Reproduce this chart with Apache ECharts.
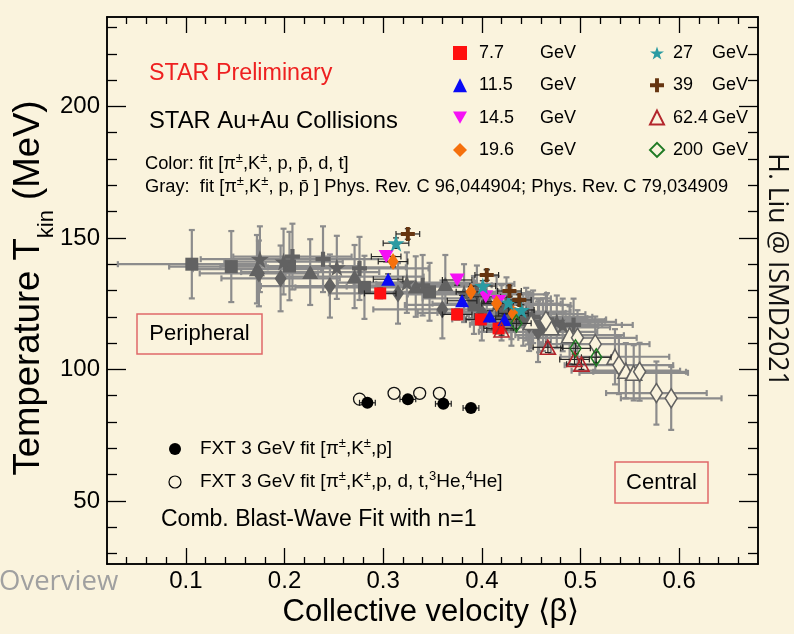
<!DOCTYPE html>
<html><head><meta charset="utf-8">
<script src="https://cdn.jsdelivr.net/npm/echarts@6/dist/echarts.min.js"></script>
<style>html,body{margin:0;padding:0;background:#faf3dd}#c{width:794px;height:634px}</style>
</head><body><div id="c"></div><script>
// ---- axis ticks ----
const xTickLabels = [0.1, 0.2, 0.3, 0.4, 0.5, 0.6];
const xMinorTicks = [0.04,0.06,0.08,0.12,0.14,0.16,0.18,0.22,0.24,0.26,0.28,0.32,0.34,0.36,0.38,0.42,0.44,0.46,0.48,0.52,0.54,0.56,0.58,0.62,0.64,0.66];
const yTickLabels = [50, 100, 150, 200];
const yMinorTicks = [30,40,60,70,80,90,110,120,130,140,160,170,180,190,210,220,230];

// ---- colour fits [pi, K, p, pbar, d, t] : [beta, Tkin, dBeta, dT] ----
const fit7p7  = [[0.297,128.9,0.016,2],[0.375,120.9,0.015,2],[0.399,119.0,0.015,2],[0.417,115.6,0.015,2]];
const fit11p5 = [[0.305,134.3,0.015,2],[0.380,126.1,0.015,2],[0.408,120.3,0.015,2],[0.423,119.0,0.015,2]];
const fit14p5 = [[0.303,142.9,0.015,2],[0.375,134.0,0.015,2],[0.404,127.6,0.015,2],[0.417,125.8,0.015,2]];
const fit19p6 = [[0.310,141.0,0.015,2],[0.389,129.5,0.015,2],[0.415,125.1,0.015,2],[0.432,121.3,0.015,2]];
const fit27   = [[0.313,148.0,0.013,2],[0.401,131.7,0.013,2],[0.427,125.4,0.013,2],[0.440,122.6,0.013,2]];
const fit39   = [[0.325,151.5,0.012,2],[0.405,135.9,0.012,2],[0.428,129.8,0.012,2],[0.438,126.4,0.012,2]];
const fit62p4 = [[0.420,115.0,0.015,2],[0.467,108.4,0.015,2],[0.494,103.8,0.015,2],[0.501,102.0,0.015,2]];
const fit200  = [[0.435,117.5,0.015,2],[0.495,108.0,0.015,2],[0.516,104.6,0.015,2]];

// ---- published fits [pi, K, p, pbar] (gray) ----
const pub7p7  = [[0.106,140.0,0.075,13],[0.146,139.1,0.063,13.5],[0.205,139.3,0.07,13],[0.281,131.2,0.07,12],[0.347,129.5,0.07,11],[0.392,124.5,0.07,11],[0.420,121.5,0.065,10.5],[0.442,119.0,0.06,10],[0.458,116.5,0.06,10]];
const pub11p5 = [[0.172,138.1,0.065,13],[0.226,137.0,0.07,12.5],[0.271,135.3,0.07,12],[0.333,131.5,0.07,11.5],[0.363,132.5,0.07,11],[0.405,127.0,0.065,11],[0.430,122.0,0.06,10.5],[0.447,119.5,0.06,10],[0.462,117.0,0.06,10]];
const pub19p6 = [[0.174,136.5,0.06,12.5],[0.196,134.6,0.06,12.5],[0.246,131.7,0.07,12],[0.315,128.9,0.07,11.5],[0.360,122.8,0.07,11],[0.400,121.5,0.065,10.5],[0.430,119.0,0.06,10],[0.448,117.0,0.06,10],[0.457,114.3,0.06,11.5]];
const pub27   = [[0.175,141.9,0.06,12.5],[0.199,141.0,0.06,12.5],[0.253,138.8,0.07,12],[0.324,133.0,0.07,11.5],[0.382,129.0,0.07,11],[0.415,125.0,0.065,10.5],[0.445,121.0,0.06,10],[0.476,118.1,0.06,10],[0.482,116.9,0.06,10]];
const pub39   = [[0.208,142.9,0.06,12.5],[0.239,141.9,0.065,12.5],[0.276,138.4,0.07,12],[0.340,132.0,0.07,11.5],[0.395,128.5,0.07,11],[0.425,124.5,0.065,10.5],[0.452,120.0,0.06,10],[0.466,119.0,0.06,10],[0.493,116.9,0.06,10]];
const pub62p4 = [[0.450,118.0,0.06,10],[0.470,116.0,0.06,10],[0.489,113.0,0.055,11],[0.535,104.8,0.055,10.5],[0.546,99.5,0.055,10.5],[0.554,98.7,0.055,10.5]];
const pub200  = [[0.465,118.5,0.06,10],[0.497,112.0,0.06,10.5],[0.515,109.6,0.055,10.5],[0.539,101.6,0.055,11],[0.560,99.1,0.047,11],[0.577,91.0,0.051,12],[0.592,89.0,0.051,12]];

// ---- FXT 3 GeV : [beta, Tkin, dBeta] ----
const fxtPiKp  = [[0.284,87.3,0.008],[0.325,88.6,0.008],[0.361,86.9,0.008],[0.389,85.3,0.008]];
const fxtLight = [[0.276,88.7],[0.311,90.9],[0.337,90.9],[0.357,90.9]];

const FONT = '"Liberation Sans", Arial, Helvetica, sans-serif';
const BG = '#faf3dd';
const STAR = 'path://M50,0L61.8,35.4L99,35.4L69,57.3L80.3,92.7L50,70.8L19.7,92.7L31,57.3L1,35.4L38.2,35.4Z';
const CROSS = 'path://M36,0H64V36H100V64H64V100H36V64H0V36H36Z';
const DOWN = 'path://M0,0L100,0L50,87Z';

const colourSets = [
  {name: '7.7 GeV',  data: fit7p7,  symbol: 'rect',     size: 12,      color: '#ff1010'},
  {name: '11.5 GeV', data: fit11p5, symbol: 'triangle', size: [14,13], color: '#0a0af5'},
  {name: '14.5 GeV', data: fit14p5, symbol: DOWN,       size: [15,13], color: '#f510f5'},
  {name: '19.6 GeV', data: fit19p6, symbol: 'diamond',  size: [11,17], color: '#f5700c'},
  {name: '27 GeV',   data: fit27,   symbol: STAR,       size: 17,      color: '#2a9ba2'},
  {name: '39 GeV',   data: fit39,   symbol: CROSS,      size: 14,      color: '#663510'},
  {name: '62.4 GeV', data: fit62p4, symbol: 'triangle', size: [15,14], color: '#b3262c', open: true},
  {name: '200 GeV',  data: fit200,  symbol: 'diamond',  size: [11,17], color: '#1f7a24', open: true}
];
const graySets = [
  {name: 'pub 7.7',  data: pub7p7,  symbol: 'rect',     size: 13},
  {name: 'pub 11.5', data: pub11p5, symbol: 'triangle', size: [16,14]},
  {name: 'pub 19.6', data: pub19p6, symbol: 'diamond',  size: [12,18]},
  {name: 'pub 27',   data: pub27,   symbol: STAR,       size: 18},
  {name: 'pub 39',   data: pub39,   symbol: CROSS,      size: 15},
  {name: 'pub 62.4', data: pub62p4, symbol: 'triangle', size: [16,15], open: true},
  {name: 'pub 200',  data: pub200,  symbol: 'diamond',  size: [12,19], open: true}
];

function seg(x1, y1, x2, y2, stroke, lw) {
  return {type: 'line', shape: {x1, y1, x2, y2}, style: {stroke, lineWidth: lw}};
}
function errorBars(name, data, stroke, lw, cap, z) {
  return {
    type: 'custom', name, data, z, silent: true, clip: true,
    encode: {x: 0, y: 1},
    renderItem(params, api) {
      const b = api.value(0), t = api.value(1), db = api.value(2), dt = api.value(3);
      const ch = [];
      if (db > 0) {
        const l = api.coord([b - db, t]), r = api.coord([b + db, t]);
        ch.push(seg(l[0], l[1], r[0], r[1], stroke, lw),
                seg(l[0], l[1] - cap, l[0], l[1] + cap, stroke, lw),
                seg(r[0], r[1] - cap, r[0], r[1] + cap, stroke, lw));
      }
      if (dt > 0) {
        const u = api.coord([b, t + dt]), d = api.coord([b, t - dt]);
        ch.push(seg(u[0], u[1], d[0], d[1], stroke, lw),
                seg(u[0] - cap, u[1], u[0] + cap, u[1], stroke, lw),
                seg(d[0] - cap, d[1], d[0] + cap, d[1], stroke, lw));
      }
      return {type: 'group', children: ch};
    }
  };
}
function markers(set, fill, z) {
  return {
    type: 'scatter', name: set.name, z, symbol: set.symbol, symbolSize: set.size,
    data: set.data.map(p => [p[0], p[1]]),
    itemStyle: set.open ? {color: fill, borderColor: set.color, borderWidth: 1.6, opacity: 1}
                        : {color: set.color, borderWidth: 0, opacity: 1}
  };
}

const series = [];
graySets.forEach(s => series.push(errorBars(s.name + ' err', s.data, '#8c8c8c', 2.2, 3, 2)));
graySets.forEach(s => series.push(markers(Object.assign({color: '#626262'}, s), BG, 3)));
colourSets.forEach(s => series.push(errorBars(s.name + ' err', s.data, '#262626', 1.2, 3, 4)));
colourSets.forEach(s => series.push(markers(s, 'rgba(0,0,0,0)', 5)));
series.push(errorBars('FXT err', fxtPiKp.map(p => [p[0], p[1], p[2], 0]), '#222', 1.2, 3, 6));
series.push({type: 'scatter', name: 'FXT light', z: 6, symbol: 'circle', symbolSize: 12,
  data: fxtLight, itemStyle: {color: 'rgba(0,0,0,0)', borderColor: '#111', borderWidth: 1.3, opacity: 1}});
series.push({type: 'scatter', name: 'FXT', z: 7, symbol: 'circle', symbolSize: 12,
  data: fxtPiKp.map(p => [p[0], p[1]]), itemStyle: {color: '#000', opacity: 1}});

// text runs with super/subscripts
const ctx = document.createElement('canvas').getContext('2d');
function width(t, s) { ctx.font = s + 'px "Liberation Sans"'; return ctx.measureText(t).width; }
function run(parts, o) {
  let w = 0; const kids = [];
  parts.forEach(([t, s, dy]) => {
    kids.push({type: 'text', x: w, y: dy || 0, style: {text: t, font: s + 'px ' + (o.family || FONT),
      fill: o.fill || '#000', align: 'left', textAlign: 'left', verticalAlign: 'middle', textVerticalAlign: 'middle'}});
    w += width(t, s);
  });
  if (o.center) kids.forEach(k => { k.x -= w / 2; });
  return {type: 'group', x: o.x, y: o.y, rotation: o.rotation || 0, z: 100, children: kids};
}
function label(text, x, y, size, extra) {
  return {type: 'text', x, y, z: 100, style: Object.assign({text, font: size + 'px ' + FONT, fill: '#000',
    align: 'left', textAlign: 'left', verticalAlign: 'middle', textVerticalAlign: 'middle'}, extra || {})};
}
function boxed(text, x, y, w, h) {
  return {type: 'group', z: 100, children: [
    {type: 'rect', shape: {x, y, width: w, height: h}, style: {fill: 'rgba(0,0,0,0)', stroke: '#e06868', lineWidth: 1.5}},
    label(text, x + w / 2, y + h / 2, 22, {align: 'center', textAlign: 'center'})
  ]};
}

const P = ['±', 13, -6];
const graphic = [
  run([['Temperature T', 36.5], ['kin', 22, 18], [' (MeV)', 36.5]], {x: 29, y: 288, rotation: Math.PI / 2, center: true}),
  run([['Collective velocity ⟨β⟩', 31]], {x: 431, y: 612, center: true}),
  label('STAR Preliminary', 149, 74, 23.3, {fill: '#ee2020'}),
  label('STAR Au+Au Collisions', 149, 121, 23.8),
  run([['Color: fit [π', 18.3], P, [',K', 18.3], P, [', p, p\u0304, d, t]', 18.3]], {x: 145, y: 164}),
  run([['Gray:  fit [π', 18.3], P, [',K', 18.3], P, [', p, p\u0304 ] Phys. Rev. C 96,044904; Phys. Rev. C 79,034909', 18.3]], {x: 145, y: 187}),
  boxed('Peripheral', 137, 314, 125, 40),
  boxed('Central', 615, 462, 93, 41),
  {type: 'circle', z: 100, shape: {cx: 175, cy: 449, r: 6}, style: {fill: '#000'}},
  run([['FXT 3 GeV fit [π', 19], ['±', 13, -6], [',K', 19], ['±', 13, -6], [',p]', 19]], {x: 200, y: 449}),
  {type: 'circle', z: 100, shape: {cx: 175, cy: 482, r: 6}, style: {fill: 'rgba(0,0,0,0)', stroke: '#000', lineWidth: 1.2}},
  run([['FXT 3 GeV fit [π', 19], ['±', 13, -6], [',K', 19], ['±', 13, -6], [',p, d, t,', 19], ['3', 13, -6], ['He,', 19], ['4', 13, -6], ['He]', 19]], {x: 200, y: 482}),
  label('Comb. Blast-Wave Fit with n=1', 161, 520, 23),
  {type: 'text', x: 777, y: 270, rotation: -Math.PI / 2, z: 100, style: {text: 'H. Liu @ ISMD2021',
    font: '26.5px "Open Sans", sans-serif', fill: '#111', align: 'center', textAlign: 'center', verticalAlign: 'middle', textVerticalAlign: 'middle'}},
  {type: 'text', x: -1, y: 582, z: 100, style: {text: 'Overview', font: '27.5px "Open Sans", sans-serif', fill: '#a0a0a0',
    align: 'left', textAlign: 'left', verticalAlign: 'middle', textVerticalAlign: 'middle'}}
];

const XMIN = 0.02, XMAX = 0.68, YMIN = 26, YMAX = 234;
const line = {show: true, lineStyle: {color: '#000', width: 1.5}};
function xAx(position, ticks, len, labels) {
  return {type: 'value', position, min: XMIN, max: XMAX, splitLine: {show: false},
    axisLine: labels !== null ? line : {show: false},
    axisTick: {show: true, inside: true, length: len, customValues: ticks, lineStyle: {color: '#000', width: 1.3}},
    axisLabel: labels ? {show: true, customValues: labels, fontSize: 24, fontFamily: FONT, color: '#000', margin: 5,
      formatter: v => v.toFixed(1)} : {show: false}};
}
function yAx(position, ticks, len, labels) {
  return {type: 'value', position, min: YMIN, max: YMAX, splitLine: {show: false},
    axisLine: labels !== null ? line : {show: false},
    axisTick: {show: true, inside: true, length: len, customValues: ticks, lineStyle: {color: '#000', width: 1.3}},
    axisLabel: labels ? {show: true, customValues: labels, fontSize: 24, fontFamily: FONT, color: '#000', margin: 7,
      formatter: v => String(v)} : {show: false}};
}

const legendRich = (w, pad) => ({
  v: {width: w, padding: [0, 0, 0, pad], fontSize: 18, fontFamily: FONT, color: '#000'},
  u: {fontSize: 18, fontFamily: FONT, color: '#000'}
});
const legendFmt = n => { const [v, u] = n.split(' '); return '{v|' + v + '}{u|' + u + '}'; };

const chart = echarts.init(document.getElementById('c'), null, {renderer: 'canvas'});
chart.setOption({
  backgroundColor: BG,
  animation: false,
  grid: {left: 107, right: 36, top: 17, bottom: 70, containLabel: false},
  xAxis: [xAx('bottom', xTickLabels, 16, xTickLabels), xAx('bottom', xMinorTicks, 7, false),
          xAx('top', xTickLabels, 16, false), xAx('top', xMinorTicks, 7, false)],
  yAxis: [yAx('left', yTickLabels, 19, yTickLabels), yAx('left', yMinorTicks, 10, false),
          yAx('right', yTickLabels, 19, false), yAx('right', yMinorTicks, 10, false)],
  legend: [
    {data: colourSets.slice(0, 4).map(s => s.name), orient: 'vertical', left: 453, top: 43, padding: 0, itemWidth: 14, itemHeight: 14,
     itemGap: 12.3, selectedMode: false, formatter: legendFmt, textStyle: {lineHeight: 20, rich: legendRich(61, 7)}},
    {data: colourSets.slice(4).map(s => s.name), orient: 'vertical', left: 649, top: 43, padding: 0, itemWidth: 14, itemHeight: 14,
     itemGap: 12.3, selectedMode: false, formatter: legendFmt, textStyle: {lineHeight: 20, rich: legendRich(39, 4)}}
  ],
  series,
  graphic
});
</script></body></html>
